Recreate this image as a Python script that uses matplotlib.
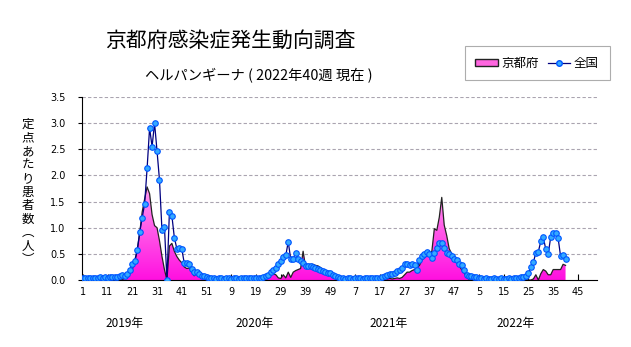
import numpy as np
import matplotlib
matplotlib.use('Agg')
import matplotlib.pyplot as plt
from matplotlib.colors import LinearSegmentedColormap
from matplotlib.patches import Patch
from matplotlib.lines import Line2D

plt.rcParams['font.family'] = ['Noto Sans CJK JP', 'DejaVu Sans']

# 全国 (national), per week
national_2019 = [0.03, 0.03, 0.03, 0.03, 0.04, 0.03, 0.04, 0.05, 0.04, 0.05, 0.04, 0.05, 0.06, 0.05,
                 0.06, 0.08, 0.10, 0.07, 0.12, 0.19, 0.30, 0.37, 0.58, 0.91, 1.19, 1.46, 2.14, 2.91,
                 2.55, 3.00, 2.47, 1.91, 0.95, 1.02, 0.00, 1.30, 1.23, 0.81, 0.60, 0.61, 0.60, 0.32,
                 0.33, 0.31, 0.21, 0.16, 0.15, 0.12, 0.08, 0.07, 0.05, 0.04]
national_2020 = [0.03, 0.03, 0.02, 0.03, 0.03, 0.02, 0.03, 0.03, 0.02, 0.03, 0.03, 0.02, 0.03, 0.03,
                 0.03, 0.04, 0.03, 0.03, 0.03, 0.04, 0.04, 0.05, 0.07, 0.10, 0.15, 0.20, 0.22, 0.30,
                 0.37, 0.44, 0.47, 0.73, 0.40, 0.41, 0.52, 0.40, 0.37, 0.33, 0.26, 0.26, 0.27, 0.24,
                 0.23, 0.21, 0.19, 0.17, 0.15, 0.14, 0.13, 0.09, 0.07, 0.05]
national_2021 = [0.03, 0.03, 0.02, 0.03, 0.03, 0.02, 0.03, 0.03, 0.03, 0.02, 0.03, 0.03, 0.03, 0.03,
                 0.04, 0.03, 0.04, 0.05, 0.08, 0.10, 0.11, 0.12, 0.14, 0.17, 0.19, 0.22, 0.30, 0.31,
                 0.28, 0.31, 0.28, 0.19, 0.38, 0.45, 0.49, 0.53, 0.50, 0.42, 0.51, 0.61, 0.71, 0.71,
                 0.61, 0.51, 0.49, 0.46, 0.41, 0.38, 0.31, 0.28, 0.20, 0.10]
national_2022 = [0.07, 0.07, 0.06, 0.05, 0.04, 0.03, 0.02, 0.03, 0.02, 0.02, 0.03, 0.02, 0.02, 0.03,
                 0.02, 0.02, 0.03, 0.02, 0.03, 0.03, 0.04, 0.05, 0.06, 0.07, 0.14, 0.24, 0.34, 0.52,
                 0.54, 0.74, 0.82, 0.59, 0.50, 0.82, 0.90, 0.89, 0.80, 0.45, 0.47, 0.40]

# 京都府 (Kyoto), per week
kyoto_2019 = [0, 0, 0, 0, 0, 0, 0, 0, 0, 0, 0, 0, 0, 0, 0, 0,
              0.01, 0.03, 0.07, 0.12, 0.20, 0.35, 0.55, 0.90, 1.30, 1.55, 1.78, 1.65, 1.25, 1.04,
              1.00, 0.75, 0.45, 0.20, 0.00, 0.65, 0.70, 0.55, 0.45, 0.38, 0.33, 0.25, 0.22, 0.23,
              0.15, 0.08, 0.13, 0.15, 0.10, 0.05, 0.03, 0.00]
kyoto_2020 = [0, 0, 0, 0, 0, 0, 0, 0, 0, 0, 0, 0, 0, 0, 0, 0, 0, 0, 0, 0, 0, 0,
              0.02, 0.05, 0.10, 0.12, 0.10, 0.04, 0.03, 0.10, 0.04, 0.15, 0.05, 0.15, 0.18, 0.20,
              0.22, 0.55, 0.25, 0.30, 0.30, 0.30, 0.28, 0.27, 0.24, 0.20, 0.17, 0.13, 0.10, 0.05,
              0.03, 0.01]
kyoto_2021 = [0, 0, 0, 0, 0, 0, 0, 0, 0, 0, 0, 0, 0, 0, 0, 0, 0.02, 0.02, 0.03, 0.02, 0.03, 0.02,
              0.03, 0.04, 0.03, 0.05, 0.10, 0.15, 0.15, 0.18, 0.20, 0.23, 0.28, 0.38, 0.43, 0.46,
              0.50, 0.55, 0.98, 0.95, 1.20, 1.58, 1.05, 0.85, 0.60, 0.50, 0.42, 0.33, 0.27, 0.20,
              0.14, 0.06]
kyoto_2022 = [0.01, 0, 0, 0, 0, 0, 0, 0, 0, 0, 0, 0, 0, 0, 0, 0, 0, 0, 0.01, 0.01, 0.02, 0.01,
              0.02, 0.01, 0.0, 0.0, 0.02, 0.10, 0.0, 0.12, 0.20, 0.17, 0.10, 0.10, 0.20, 0.20,
              0.20, 0.20, 0.30, 0.28]

week_labels = ['1', '11', '21', '31', '41', '51', '9', '19', '29', '39', '49',
               '7', '17', '27', '37', '47', '5', '15', '25', '35', '45']
years = ['2019年', '2020年', '2021年', '2022年']

national = np.array(national_2019 + national_2020 + national_2021 + national_2022)
kyoto = np.array(kyoto_2019 + kyoto_2020 + kyoto_2021 + kyoto_2022)
x = np.arange(len(national))

fig = plt.figure(figsize=(6.31, 3.47), dpi=100)
ax = fig.add_axes([82 / 631, 1 - 280 / 347, 515 / 631, 183 / 347])

# pink area with a vertical gradient
poly = ax.fill_between(x, kyoto, 0, facecolor='none', edgecolor='none')
cmap = LinearSegmentedColormap.from_list('pk', ['#ff10e0', '#ff9cf0'])
grad = np.linspace(0, 1, 256).reshape(-1, 1)
im = ax.imshow(grad, cmap=cmap, origin='lower', aspect='auto',
               extent=[x[0], x[-1], 0, 1.8], zorder=2)
im.set_clip_path(poly.get_paths()[0], transform=ax.transData)
ax.plot(x, kyoto, color='#222222', lw=0.9, zorder=3)

ax.plot(x, national, color='#000080', lw=0.9, marker='o', markersize=4,
        markerfacecolor='#33aaff', markeredgecolor='#0055ff', markeredgewidth=0.8, zorder=4)

ax.set_xlim(-0.3, 207.7)
ax.set_ylim(0, 3.5)
ax.set_yticks(np.arange(0, 3.51, 0.5))
ax.set_yticklabels([f'{v:.1f}' for v in np.arange(0, 3.51, 0.5)], fontsize=7, family='DejaVu Sans')
ax.set_xticks(np.arange(0, 201, 10))
ax.set_xticklabels(week_labels, fontsize=7, family='DejaVu Sans')
ax.tick_params(axis='x', direction='in', length=4, pad=5)
ax.tick_params(axis='y', direction='out', length=3, pad=9)
for yv in np.arange(0.5, 3.51, 0.5):
    ax.axhline(yv, color='#aaa4b0', lw=0.8, ls=(0, (3, 2)), zorder=1)
ax.spines['top'].set_visible(False)
ax.spines['right'].set_visible(False)

fig.text(105 / 631, 1 - 41 / 347, '京都府感染症発生動向調査', fontsize=15, ha='left', va='center')
fig.text(145 / 631, 1 - 76 / 347, 'ヘルパンギーナ ( 2022年40週 現在 )', fontsize=10.3, ha='left', va='center')
fig.text(28 / 631, 1 - 192 / 347, '\n'.join('定点あたり患者数︵人︶'), fontsize=9,
         ha='center', va='center', linespacing=1.05)
for xp, yr in zip([125, 255, 389, 516], years):
    fig.text(xp / 631, 1 - 323 / 347, yr, fontsize=8.5, ha='center', va='center')

handles = [Patch(facecolor='#ff66e0', edgecolor='#222222'),
           Line2D([], [], color='#000080', lw=0.9, marker='o', markersize=4,
                  markerfacecolor='#33aaff', markeredgecolor='#0055ff')]
leg = fig.legend(handles, ['京都府', '全国'], loc='center', bbox_to_anchor=(537 / 631, 1 - 63 / 347),
                 ncol=2, fontsize=9, frameon=True, fancybox=False, edgecolor='#999999',
                 handlelength=1.8, handleheight=0.5, handletextpad=0.3, columnspacing=0.7,
                 borderpad=0.85, borderaxespad=0)
leg.get_frame().set_linewidth(0.8)

fig.savefig('out.png', dpi=100)
